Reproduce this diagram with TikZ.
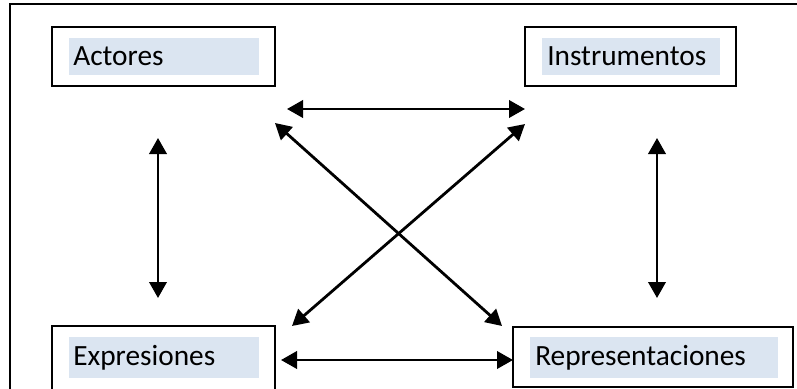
\documentclass[tikz,border=0pt]{standalone}
\usepackage{fontspec}
\setmainfont{Carlito}
\usetikzlibrary{arrows.meta}
\definecolor{hl}{HTML}{DBE5F1}
\tikzset{
  box/.style={draw=black, line width=1.6pt},
  hlbox/.style={fill=hl},
  lbl/.style={anchor=base west, inner sep=0pt, font=\fontsize{22}{26}\selectfont},
  link/.style={line width=2.1pt, {Triangle[length=12pt,width=13pt]}-{Triangle[length=12pt,width=13pt]}}
}
\begin{document}
\begin{tikzpicture}[x=0.75pt,y=-0.75pt]
\useasboundingbox (0,0) rectangle (797,389);
\clip (0,0) rectangle (797,389);
% outer frame
\draw[line width=1.6pt] (10,4) rectangle (800,395);
% boxes
\draw[box] (52,27) rectangle (275,86);
\fill[hlbox] (69,38) rectangle (259,75);
\node[lbl] (act) at (73,65) {Actores};
\draw[box] (525,27) rectangle (736,86);
\fill[hlbox] (542,38) rectangle (720,75);
\node[lbl] (ins) at (547,65) {Instrumentos};
\draw[box] (52,326) rectangle (275,395);
\fill[hlbox] (69,337) rectangle (259,378);
\node[lbl] (exp) at (73,365) {Expresiones};
\draw[box] (513,327) rectangle (793,387);
\fill[hlbox] (530,337) rectangle (778,378);
\node[lbl] (rep) at (535,365) {Representaciones};
% connector end points
\coordinate (actR) at (287,109);
\coordinate (insL) at (525,109);
\coordinate (actD) at (158,138);
\coordinate (expU) at (158,298);
\coordinate (insD) at (657,138);
\coordinate (repU) at (657,298);
\coordinate (expR) at (281,360);
\coordinate (repL) at (513,360);
\coordinate (actX) at (275,123);
\coordinate (repX) at (502,326);
\coordinate (insX) at (525,124);
\coordinate (expX) at (292,326);
% connectors
\draw[link] (actR) -- (insL);
\draw[link] (actD) -- (expU);
\draw[link] (insD) -- (repU);
\draw[link] (expR) -- (repL);
\draw[link] (actX) -- (repX);
\draw[link] (insX) -- (expX);
\end{tikzpicture}
\end{document}
